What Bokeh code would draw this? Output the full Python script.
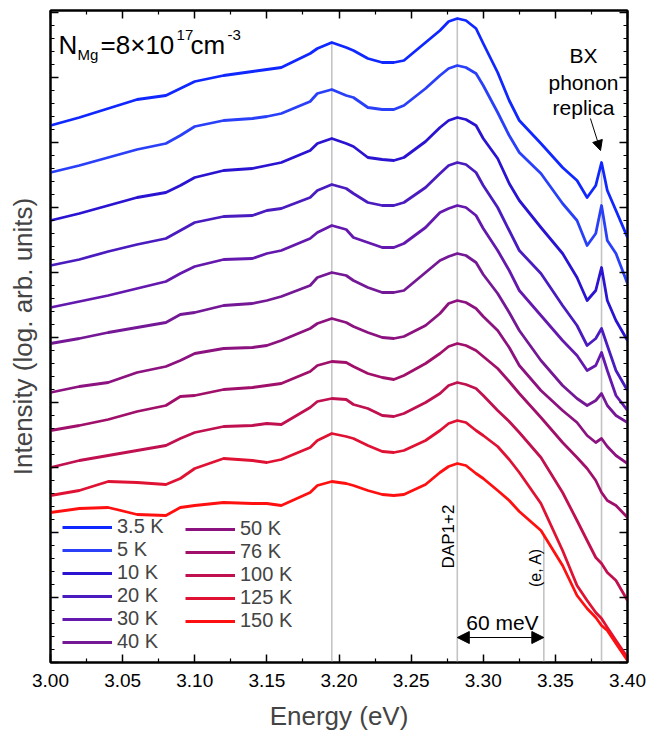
import numpy as np
from bokeh.plotting import figure
from bokeh.models import (Range1d, LinearAxis, FixedTicker, Legend, LegendItem,
                          Label, Arrow, NormalHead, PrintfTickFormatter, CustomLabelingPolicy)
from bokeh.embed import file_html
from bokeh.resources import INLINE

# ---------------- data (log intensity, arb. units, curves stacked) -------------
energy = [3.00, 3.02, 3.04, 3.06, 3.08, 3.09, 3.10, 3.12, 3.14, 3.15, 3.16, 3.18, 3.185,
          3.195, 3.205, 3.21, 3.22, 3.23, 3.238, 3.245, 3.26, 3.27, 3.276, 3.282, 3.288,
          3.295, 3.30, 3.31, 3.318, 3.325, 3.34, 3.355, 3.365, 3.372, 3.378, 3.382, 3.386,
          3.392, 3.40]

temps = ["3.5 K", "5 K", "10 K", "20 K", "30 K", "40 K",
         "50 K", "76 K", "100 K", "125 K", "150 K"]

int_3p5K = [537, 545, 554, 563, 567, 574, 581, 587, 591, 593, 595, 609, 614, 620, 615, 612, 604, 600, 600, 602, 620, 632, 641, 644, 642, 634, 619, 590, 562, 542, 519, 495, 482, 465, 477, 500, 472, 452, 425]
int_5K   = [490, 497, 505, 513, 519, 527, 536, 542, 544, 546, 549, 561, 569, 573, 567, 565, 555, 553, 553, 557, 574, 587, 594, 597, 595, 589, 577, 550, 527, 510, 489, 459, 442, 417, 429, 457, 422, 409, 379]
int_10K  = [442, 449, 457, 465, 470, 477, 485, 492, 494, 497, 500, 512, 519, 524, 519, 516, 505, 503, 502, 505, 521, 535, 542, 545, 543, 537, 524, 504, 479, 462, 435, 409, 385, 362, 372, 395, 362, 342, 322]
int_20K  = [397, 403, 411, 418, 424, 432, 440, 446, 447, 452, 454, 465, 472, 478, 474, 469, 460, 457, 457, 460, 475, 489, 497, 500, 498, 490, 477, 455, 432, 412, 389, 357, 337, 317, 324, 334, 317, 292, 272]
int_30K  = [355, 361, 367, 374, 381, 389, 396, 403, 404, 409, 412, 424, 430, 437, 433, 425, 420, 415, 415, 419, 435, 450, 454, 457, 455, 447, 434, 412, 392, 372, 347, 322, 307, 292, 297, 310, 292, 267, 252]
int_40K  = [319, 324, 330, 335, 340, 348, 350, 357, 359, 362, 366, 377, 385, 390, 387, 382, 375, 370, 370, 372, 390, 402, 406, 409, 407, 400, 388, 369, 350, 332, 302, 277, 264, 257, 262, 269, 257, 247, 240]
int_50K  = [270, 276, 280, 290, 296, 302, 309, 314, 315, 317, 322, 334, 339, 344, 340, 336, 330, 325, 324, 326, 337, 349, 359, 362, 360, 354, 346, 332, 315, 297, 272, 252, 240, 227, 220, 224, 216, 207, 199]
int_76K  = [232, 237, 243, 251, 257, 266, 267, 273, 275, 277, 279, 291, 297, 301, 300, 296, 289, 285, 283, 287, 299, 309, 316, 319, 317, 312, 306, 294, 281, 269, 245, 220, 205, 194, 182, 170, 162, 157, 145]
int_100K = [195, 202, 207, 212, 217, 224, 230, 236, 237, 239, 238, 255, 261, 264, 263, 258, 254, 247, 246, 249, 260, 269, 277, 280, 278, 274, 267, 252, 241, 230, 205, 170, 142, 122, 105, 99, 90, 82, 62]
int_125K = [167, 172, 181, 180, 178, 184, 194, 204, 202, 200, 203, 215, 222, 229, 226, 224, 217, 211, 210, 212, 222, 232, 239, 242, 240, 232, 227, 216, 203, 190, 159, 112, 77, 62, 50, 44, 35, 22, 5]
int_150K = [150, 154, 155, 148, 147, 155, 157, 160, 159, 159, 157, 170, 177, 181, 179, 177, 172, 168, 167, 168, 178, 190, 196, 199, 197, 189, 184, 172, 162, 151, 132, 97, 67, 54, 45, 37, 32, 19, 2]

series = [int_3p5K, int_5K, int_10K, int_20K, int_30K, int_40K,
          int_50K, int_76K, int_100K, int_125K, int_150K]

colors = ["#1028ff", "#2a40f8", "#2a14d2", "#4a1cc0", "#6418ae", "#741896",
          "#8c1280", "#a0106a", "#c01050", "#e01234", "#ff1010"]

# marked energies (eV)
e_peak1 = 3.195
e_dap = 3.282
e_eA = 3.342
e_bx = 3.382

x_ticks = [3.00, 3.05, 3.10, 3.15, 3.20, 3.25, 3.30, 3.35, 3.40]
x_minor = [3.025, 3.075, 3.125, 3.175, 3.225, 3.275, 3.325, 3.375]

FONT = "Liberation Sans"

p = figure(width=652, height=740, output_backend="svg",
           toolbar_location=None, x_range=Range1d(3.0, 3.4), y_range=Range1d(0, 652),
           min_border_left=50, min_border_right=25, min_border_top=10, min_border_bottom=78)
p.xgrid.visible = False
p.ygrid.visible = False
p.outline_line_color = "black"
p.outline_line_width = 2
p.background_fill_color = "white"

y_major = list(range(0, 653, 65))
y_minor = [v for v in range(0, 653, 13) if v % 65 != 0]

no_labels = CustomLabelingPolicy(code="return new Set()")

def style_axis(ax, ticks, minor, labels=True):
    ax.ticker = FixedTicker(ticks=ticks, minor_ticks=minor)
    ax.axis_line_width = 2
    ax.axis_line_color = "black"
    ax.major_tick_in = 8
    ax.major_tick_out = 0
    ax.minor_tick_in = 4
    ax.minor_tick_out = 0
    ax.major_tick_line_width = 1.5
    ax.minor_tick_line_width = 1.2
    if not labels:
        ax.major_label_policy = no_labels
        ax.major_label_overrides = {t: "" for t in ticks}
        ax.major_label_standoff = 0

style_axis(p.xaxis[0], x_ticks, x_minor)
p.xaxis[0].formatter = PrintfTickFormatter(format="%.2f")
p.xaxis[0].major_label_text_font = FONT
p.xaxis[0].major_label_text_font_size = "19px"
p.xaxis[0].major_label_text_color = "black"
p.xaxis[0].major_label_standoff = 11
p.xaxis[0].axis_label = "Energy (eV)"
p.xaxis[0].axis_label_text_font = FONT
p.xaxis[0].axis_label_text_font_size = "26px"
p.xaxis[0].axis_label_text_font_style = "normal"
p.xaxis[0].axis_label_standoff = 11

style_axis(p.yaxis[0], y_major, y_minor, labels=False)
p.yaxis[0].axis_label = "Intensity (log. arb. units)"
p.yaxis[0].axis_label_text_font = FONT
p.yaxis[0].axis_label_text_font_size = "26px"
p.yaxis[0].axis_label_text_font_style = "normal"
p.yaxis[0].axis_label_standoff = 13

top_ax = LinearAxis()
style_axis(top_ax, x_ticks, x_minor, labels=False)
p.add_layout(top_ax, "above")
right_ax = LinearAxis()
style_axis(right_ax, y_major, y_minor, labels=False)
p.add_layout(right_ax, "right")

# vertical marker lines
top_peak1 = float(np.interp(e_peak1, energy, int_3p5K))
top_dap = float(np.interp(e_dap, energy, int_3p5K))
top_bx = float(np.interp(e_bx, energy, int_3p5K))
top_eA = float(np.interp(e_eA, energy, int_150K))
p.segment(x0=[e_peak1, e_dap, e_eA, e_bx], y0=[0, 0, 0, 0],
          x1=[e_peak1, e_dap, e_eA, e_bx], y1=[top_peak1, top_dap, top_eA, top_bx],
          line_color="#c4c4c4", line_width=1.6)

renderers = []
for s, c in zip(series, colors):
    r = p.line(energy, s, line_color=c, line_width=2.8, line_join="round")
    renderers.append(r)

leg1 = Legend(items=[LegendItem(label=t, renderers=[r]) for t, r in zip(temps[:6], renderers[:6])],
              location=(12, 9))
leg2 = Legend(items=[LegendItem(label=t, renderers=[r]) for t, r in zip(temps[6:], renderers[6:])],
              location=(135, 30))
for lg in (leg1, leg2):
    lg.label_text_font = FONT
    lg.label_text_font_size = "20px"
    lg.glyph_width = 50
    lg.glyph_height = 22
    lg.label_height = 22
    lg.label_standoff = 5
    lg.spacing = 0
    lg.padding = 0
    lg.margin = 0
    lg.border_line_alpha = 0
    lg.background_fill_alpha = 0
    p.add_layout(lg, "center")

def lab(x, y, t, size, **kw):
    kw.setdefault("text_baseline", "alphabetic")
    p.add_layout(Label(x=x, y=y, text=t, text_font=FONT, text_font_size=size,
                       text_color="black", **kw))

# N_Mg = 8x10^17 cm^-3
lab(3.0055, 618, "N", "26px")
lab(3.0187, 608, "Mg", "15px")
lab(3.0347, 618, "=8×10", "26px")
lab(3.0874, 628, "17", "15px")
lab(3.0971, 618, "cm", "26px")
lab(3.1227, 628, "-3", "15px")

# BX phonon replica
lab(3.3695, 607, "BX", "21px", text_align="center")
lab(3.3695, 580, "phonon", "21px", text_align="center")
lab(3.3695, 555, "replica", "21px", text_align="center")
p.add_layout(Arrow(end=NormalHead(size=10, fill_color="black", line_color="black", line_width=1),
                   x_start=3.3743, y_start=544, x_end=3.3813, y_end=512,
                   line_color="black", line_width=1))

lab(3.2756, 126, "DAP1+2", "17px", angle=np.pi / 2, text_align="center", text_baseline="middle")
lab(3.3362, 95, "(e, A)", "16px", angle=np.pi / 2, text_align="center", text_baseline="middle")
lab(3.3133, 40, "60 meV", "21px", text_align="center", text_baseline="middle")
p.add_layout(Arrow(start=NormalHead(size=12, fill_color="black", line_color="black", line_width=1),
                   end=NormalHead(size=12, fill_color="black", line_color="black", line_width=1),
                   x_start=e_dap, y_start=25, x_end=e_eA, y_end=25,
                   line_color="black", line_width=1.2))

open("out.html", "w").write(file_html(p, INLINE))
